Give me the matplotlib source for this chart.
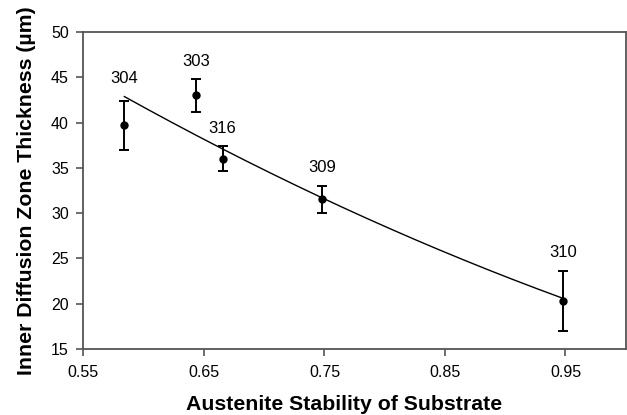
import numpy as np
import matplotlib
matplotlib.use("Agg")
import matplotlib.pyplot as plt

plt.rcParams['font.family'] = ['Liberation Sans', 'DejaVu Sans']

# steel grades, austenite stability, inner diffusion zone thickness (um)
grades = ['304', '303', '316', '309', '310']
stability = [0.584, 0.6435, 0.6655, 0.748, 0.948]
thickness = [39.7, 43.0, 36.0, 31.55, 20.3]
thickness_err = [2.7, 1.8, 1.4, 1.5, 3.35]

# regression curve (2nd order polynomial)
fit_coef = [34.7, -114.36, 97.82]

fig = plt.figure(figsize=(6.27, 4.15), dpi=100)
ax = fig.add_axes([0.133, 0.159, 0.865, 0.764])

xs = np.linspace(min(stability), max(stability), 200)
ax.plot(xs, np.polyval(fit_coef, xs), color='black', lw=1.0)

ax.errorbar(stability, thickness, yerr=thickness_err, fmt='o', color='black',
            ms=5, elinewidth=1.4, capsize=3.5, capthick=1.4)

for g, x, y, e in zip(grades, stability, thickness, thickness_err):
    top = max(y + e, np.polyval(fit_coef, x)) if g == '304' else y + e
    ax.annotate(g, (x, top), xytext=(0, 13), textcoords='offset points',
                ha='center', va='center', fontsize=12)

ax.set_xlim(0.55, 1.0)
ax.set_ylim(15, 50)
ax.set_xticks([0.55, 0.65, 0.75, 0.85, 0.95])
ax.set_xticklabels(['0.55', '0.65', '0.75', '0.85', '0.95'])
ax.set_yticks(range(15, 51, 5))
ax.tick_params(direction='out', length=5, width=1.2, color='#555555',
               labelsize=11.5)
ax.tick_params(axis='x', pad=6.5)
ax.tick_params(axis='y', pad=5.5)
for s in ax.spines.values():
    s.set_color('#555555')
    s.set_linewidth(1.3)

ax.set_xlabel('Austenite Stability of Substrate', fontsize=15.3,
              fontweight='bold', labelpad=11)
ax.xaxis.label.set_x(0.48)
ax.set_ylabel('Inner Diffusion Zone Thickness (µm)', fontsize=15.3,
              fontweight='bold', labelpad=11)

fig.savefig('out.png', dpi=100)
